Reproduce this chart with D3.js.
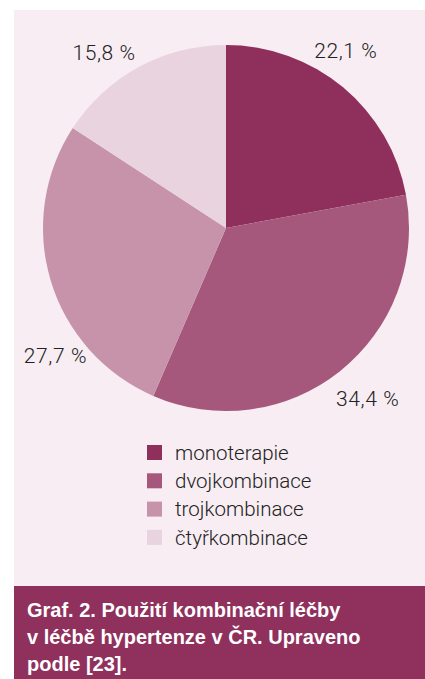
<!DOCTYPE html>
<html>
<head>
<meta charset="utf-8">
<script src="https://cdn.jsdelivr.net/npm/d3@7"></script>
<style>
  html, body { margin: 0; padding: 0; background: #fff; }
  svg { display: block; }
</style>
</head>
<body>
<svg id="chart" width="425" height="679"></svg>
<script>
var categories = ["monoterapie", "dvojkombinace", "trojkombinace", "čtyřkombinace"];
var values = [22.1, 34.4, 27.7, 15.8];
var valueLabels = ["22,1 %", "34,4 %", "27,7 %", "15,8 %"];
var colors = ["#8f2f5c", "#a5587b", "#c693ab", "#e9d3de"];
var captionLines = ["Graf. 2. Použití kombinační léčby", "v léčbě hypertenze v ČR. Upraveno", "podle [23]."];

var width = 425, height = 679;
var svg = d3.select("#chart");

// panel background
svg.append("rect")
    .attr("x", 14).attr("y", 10)
    .attr("width", width - 14).attr("height", height - 10)
    .attr("fill", "#f7edf3");

var cx = 226, cy = 228, radius = 183;

var color = d3.scaleOrdinal().domain(categories).range(colors);

var pie = d3.pie().sort(null).value(function (d) { return d.value; });
var arc = d3.arc().innerRadius(0).outerRadius(radius);

var data = categories.map(function (c, i) {
    return { name: c, value: values[i], label: valueLabels[i] };
});
var arcs = pie(data);

var g = svg.append("g").attr("transform", "translate(" + cx + "," + cy + ")");

g.selectAll("path")
    .data(arcs)
    .enter().append("path")
    .attr("d", arc)
    .attr("fill", function (d) { return color(d.data.name); });

// labels placed outside the pie, with small angle nudges to match the layout
var labelNudge = [-0.10, -0.02, -0.35, -0.11];
var labelRadius = [214, 222, 213, 214];
g.selectAll("text.val")
    .data(arcs)
    .enter().append("text")
    .attr("class", "val")
    .attr("x", function (d, i) {
        var a = (d.startAngle + d.endAngle) / 2 + labelNudge[i];
        return Math.sin(a) * labelRadius[i];
    })
    .attr("y", function (d, i) {
        var a = (d.startAngle + d.endAngle) / 2 + labelNudge[i];
        return -Math.cos(a) * labelRadius[i];
    })
    .attr("dy", "0.35em")
    .attr("text-anchor", "middle")
    .attr("font-family", "Roboto, 'Liberation Sans', sans-serif")
    .attr("font-weight", 300)
    .attr("font-size", "21px")
    .attr("letter-spacing", "0.6px")
    .attr("fill", "#222")
    .text(function (d) { return d.data.label; });

// legend
var legend = svg.append("g").attr("transform", "translate(147,445)");
var row = legend.selectAll("g")
    .data(categories)
    .enter().append("g")
    .attr("transform", function (d, i) { return "translate(0," + (i * 28.3) + ")"; });

row.append("rect")
    .attr("width", 15).attr("height", 15)
    .attr("fill", function (d) { return color(d); });

row.append("text")
    .attr("x", 28).attr("y", 7.5)
    .attr("dy", "0.35em")
    .attr("font-family", "Roboto, 'Liberation Sans', sans-serif")
    .attr("font-weight", 300)
    .attr("font-size", "20.5px")
    .attr("fill", "#222")
    .text(function (d) { return d; });

// caption box
svg.append("rect")
    .attr("x", 14).attr("y", 586)
    .attr("width", width - 14).attr("height", height - 586)
    .attr("fill", "#8f305d");

svg.append("g").selectAll("text")
    .data(captionLines)
    .enter().append("text")
    .attr("x", 27)
    .attr("y", function (d, i) { return 617 + i * 26.8; })
    .attr("font-family", "'Liberation Sans', Arial, sans-serif")
    .attr("font-weight", "bold")
    .attr("font-size", "20px")
    .attr("fill", "#fff")
    .text(function (d) { return d; });
</script>
</body>
</html>
